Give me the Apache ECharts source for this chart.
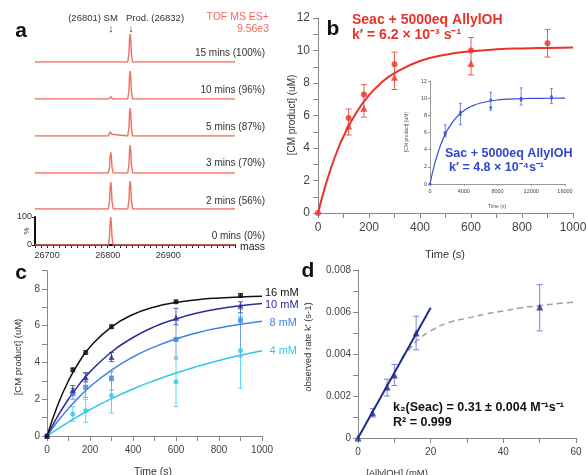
<!DOCTYPE html>
<html><head><meta charset="utf-8">
<script src="https://cdn.jsdelivr.net/npm/echarts@6/dist/echarts.min.js"></script>
<style>html,body{margin:0;padding:0;background:#fff}#c{width:587px;height:475px}</style>
</head><body><div id="c"></div>
<script>
// ---------- Panel a: mass spectra (mass, % intensity) ----------
const specMassRange = [26680, 27010];
const specTickLabels = [26700, 26800, 26900];
const spec15 = [[26680,0],[26833,0],[26835,30],[26836,80],[26837,100],[26838,80],[26839,30],[26841,0],[27010,0]];
const spec10 = [[26680,0],[26802,0],[26804,5],[26805,8],[26806,5],[26808,0],[26833,0],[26835,30],[26836,80],[26837,100],[26838,80],[26839,30],[26841,0],[27010,0]];
const spec5  = [[26680,0],[26801,0],[26803,6],[26804,15],[26805,18],[26806,15],[26807,6],[26809,0],[26833,0],[26835,30],[26836,80],[26837,100],[26838,80],[26839,30],[26841,0],[27010,0]];
const spec3  = [[26680,0],[26801,0],[26803,22],[26804,60],[26805,74],[26806,60],[26807,22],[26809,0],[26833,0],[26835,30],[26836,80],[26837,100],[26838,80],[26839,30],[26841,0],[27010,0]];
const spec2  = [[26680,0],[26801,0],[26803,29],[26804,77],[26805,96],[26806,77],[26807,29],[26809,0],[26833,0],[26835,30],[26836,80],[26837,100],[26838,80],[26839,30],[26841,0],[27010,0]];
const spec0  = [[26680,0],[26801,0],[26803,30],[26804,80],[26805,100],[26806,80],[26807,30],[26809,0],[26820,0],[26822,3],[26824,0],[26829,0],[26831,3],[26833,0],[27010,0]];
const specTraces = [spec15, spec10, spec5, spec3, spec2, spec0];
const specLabels = ['15 mins (100%)','10 mins (96%)','5 mins (87%)','3 mins (70%)','2 mins (56%)','0 mins (0%)'];

// ---------- Panel b: Seac + 5000eq AllylOH ----------
const bTime   = [0, 120, 180, 300, 600, 900];
const bRep1   = [0, 5.85, 7.3, 9.15, 10.0, 10.45];
const bRep2   = [null, 5.35, 6.45, 8.35, 9.2, null];
const bErrHi  = [0, 6.4, 7.9, 9.9, 10.8, 11.3];
const bErrLo  = [0, 4.8, 5.9, 7.6, 8.5, 9.6];
const bFitT   = [0, 25, 50, 75, 100, 150, 200, 250, 300, 400, 500, 600, 700, 800, 900, 1000];
const bFitY   = [0, 1.46, 2.72, 3.80, 4.71, 6.17, 7.25, 8.04, 8.61, 9.35, 9.74, 9.95, 10.07, 10.13, 10.16, 10.18];

// ---------- Panel b inset: Sac + 5000eq AllylOH ----------
const inTime  = [0, 1800, 3600, 7200, 10800, 14400];
const inRep1  = [0, 6.0, 8.4, 9.8, 10.0, 10.2];
const inRep2  = [null, 5.8, 8.1, 8.9, 9.8, 10.0];
const inErrHi = [0, 6.9, 9.4, 10.7, 11.2, 11.1];
const inErrLo = [0, 5.5, 6.9, 8.6, 9.2, 9.4];
const inFitT  = [0, 500, 1000, 1500, 2000, 3000, 4000, 5000, 6000, 8000, 10000, 12000, 14000, 16000];
const inFitY  = [0, 2.13, 3.81, 5.13, 6.17, 7.63, 8.53, 9.09, 9.44, 9.79, 9.92, 9.97, 9.99, 10.0];

// ---------- Panel c: concentration series ----------
const cTime = [0, 120, 180, 300, 600, 900];
const c16 = [0, 3.6, 4.55, 5.95, 7.3, 7.65];
const c16Hi = [0, 3.7, 4.65, 6.05, 7.4, 7.75];
const c16Lo = [0, 3.5, 4.45, 5.85, 7.2, 7.55];
const c10 = [0, 2.5, 3.2, 4.3, 6.45, 7.1];
const c10Hi = [0, 2.75, 3.45, 4.55, 6.95, 7.3];
const c10Lo = [0, 2.25, 2.95, 4.05, 6.05, 6.7];
const c8 = [0, 2.3, 2.65, 3.15, 5.25, 6.3];
const c8Hi = [0, 2.6, 3.4, 3.5, 6.3, 6.9];
const c8Lo = [0, 2.0, 2.1, 2.5, 4.2, 4.3];
const c4 = [0, 1.2, 1.37, 2.2, 2.95, 4.65];
const c4Hi = [0, 1.6, 2.0, 3.0, 4.3, 6.5];
const c4Lo = [0, 0.8, 0.75, 1.25, 1.6, 2.6];
const cFitT = [0, 50, 100, 150, 200, 300, 400, 500, 600, 700, 800, 900, 1000];
const cFit16 = [0, 1.69, 3.01, 4.04, 4.84, 5.94, 6.61, 7.02, 7.27, 7.42, 7.51, 7.57, 7.60];
const cFit10 = [0, 1.08, 2.01, 2.81, 3.49, 4.57, 5.36, 5.95, 6.37, 6.69, 6.92, 7.09, 7.21];
const cFit8  = [0, 0.80, 1.50, 2.13, 2.68, 3.59, 4.30, 4.85, 5.28, 5.62, 5.88, 6.08, 6.24];
const cFit4  = [0, 0.39, 0.76, 1.11, 1.44, 2.03, 2.56, 3.02, 3.43, 3.79, 4.11, 4.39, 4.64];
const cNames = ['16 mM', '10 mM', '8 mM', '4 mM'];

// ---------- Panel d: observed rate vs [AllylOH] ----------
const dConc = [0, 4, 8, 10, 16, 50];
const dRate = [0, 0.0012, 0.00243, 0.0030, 0.0050, 0.00624];
const dErrHi = [0, 0.0014, 0.0028, 0.0035, 0.0058, 0.0073];
const dErrLo = [0, 0.0010, 0.0020, 0.0025, 0.0042, 0.0051];
const dFitX = [0, 20];
const dFitY = [0, 0.0062];
const dSatX = [12, 14, 16, 20, 25, 30, 35, 40, 45, 50, 55, 60];
const dSatY = [0.0038, 0.0042, 0.0046, 0.0051, 0.0055, 0.0057, 0.0059, 0.00605, 0.0062, 0.0063, 0.0064, 0.00648];

// ---------- build ----------
const FONT = "'Liberation Sans', Arial, sans-serif";
const zip = (xs, ys) => xs.map((x, i) => [x, ys[i]]).filter(d => d[1] != null);
const chart = echarts.init(document.getElementById('c'), null, {renderer: 'canvas'});

const grids = [], xAxes = [], yAxes = [], series = [];
const specBase = [62, 99, 136, 173, 209, 245];
specBase.forEach((b, i) => {
  grids.push({left: 35, top: b - 28, width: 200, height: 28, outerBoundsMode: 'none'});
  const last = i === specBase.length - 1;
  xAxes.push({type: 'value', gridIndex: i, min: specMassRange[0], max: specMassRange[1], interval: 10, show: last,
    axisLine: {show: true, lineStyle: {color: '#111', width: 2}},
    axisTick: {show: true, length: 3, lineStyle: {color: '#222'}},
    axisLabel: {show: true, fontSize: 9, color: '#333', margin: 6, fontFamily: FONT,
      formatter: v => (specTickLabels.indexOf(Math.round(v)) >= 0 ? String(Math.round(v)) : '')},
    splitLine: {show: false}});
  yAxes.push({type: 'value', gridIndex: i, min: 0, max: 100, interval: 100, show: last,
    axisLine: {show: true, lineStyle: {color: '#111', width: 2}},
    axisTick: {show: true, length: 3, lineStyle: {color: '#222'}},
    axisLabel: {show: true, fontSize: 9, color: '#333', margin: 3, fontFamily: FONT},
    splitLine: {show: false}});
  series.push({type: 'line', xAxisIndex: i, yAxisIndex: i, data: specTraces[i], showSymbol: false, symbol: 'none',
    lineStyle: {color: '#ef6f63', width: 1.4}, z: 3, animation: false});
});

function axisPair(gi, xo, yo) {
  grids.push(Object.assign({outerBoundsMode: 'none'}, xo.grid));
  const base = (o) => ({
    axisLine: {show: true, lineStyle: {color: o.lineColor || '#888', width: 1}},
    axisTick: {show: true, length: o.tick || 5, lineStyle: {color: o.lineColor || '#888'}},
    splitLine: {show: false}
  });
  xAxes.push(Object.assign(base(xo), {type: 'value', gridIndex: gi, min: xo.min, max: xo.max, interval: xo.interval,
    axisLabel: {fontSize: xo.font, color: '#444', margin: xo.margin || 8, fontFamily: FONT,
      formatter: v => (Math.round(v / xo.interval) % (xo.every || 1) === 0 ? xo.fmt ? xo.fmt(v) : String(Math.round(v)) : '')}}));
  yAxes.push(Object.assign(base(yo), {type: 'value', gridIndex: gi, min: yo.min, max: yo.max, interval: yo.interval,
    axisLabel: {fontSize: yo.font, color: '#444', margin: yo.margin || 6, fontFamily: FONT,
      formatter: v => (Math.round(v / yo.interval) % (yo.every || 1) === 0 ? yo.fmt ? yo.fmt(v) : String(Math.round(v)) : '')}}));
}
// grid 6: panel b
axisPair(6, {grid: {left: 318, top: 18, width: 255, height: 195}, min: 0, max: 1000, interval: 100, every: 2, font: 12, margin: 9},
            {min: 0, max: 12, interval: 1, every: 2, font: 12, margin: 8});
// grid 7: inset
axisPair(7, {grid: {left: 430, top: 81, width: 135, height: 103}, min: 0, max: 16000, interval: 4000, font: 5.5, tick: 2, margin: 4, lineColor: '#999'},
            {min: 0, max: 12, interval: 2, font: 5.5, tick: 2, margin: 3, lineColor: '#999'});
// grid 8: panel c
axisPair(8, {grid: {left: 47, top: 270.6, width: 215, height: 165.4}, min: 0, max: 1000, interval: 100, every: 2, font: 10, margin: 9},
            {min: 0, max: 9, interval: 1, every: 2, font: 10, margin: 7});
// grid 9: panel d
axisPair(9, {grid: {left: 358, top: 270, width: 218, height: 168}, min: 0, max: 60, interval: 10, every: 2, font: 10, margin: 9},
            {min: 0, max: 0.008, interval: 0.001, every: 2, font: 10, margin: 7, fmt: v => (Math.abs(v) < 1e-9 ? '0' : v.toFixed(3))});

function errBars(gi, xs, lo, hi, color, cap) {
  const data = xs.map((x, i) => [x, lo[i], hi[i]]).filter(d => d[2] > d[1]);
  return {type: 'custom', xAxisIndex: gi, yAxisIndex: gi, silent: true, z: 2, data: data, encode: {x: 0, y: [1, 2]},
    renderItem: (p, api) => {
      const a = api.coord([api.value(0), api.value(1)]);
      const b = api.coord([api.value(0), api.value(2)]);
      const st = {stroke: color, lineWidth: 1};
      return {type: 'group', children: [
        {type: 'line', shape: {x1: a[0], y1: a[1], x2: b[0], y2: b[1]}, style: st},
        {type: 'line', shape: {x1: a[0] - cap, y1: a[1], x2: a[0] + cap, y2: a[1]}, style: st},
        {type: 'line', shape: {x1: b[0] - cap, y1: b[1], x2: b[0] + cap, y2: b[1]}, style: st}]};
    }};
}
function scat(gi, xs, ys, symbol, size, color) {
  return {type: 'scatter', xAxisIndex: gi, yAxisIndex: gi, data: zip(xs, ys), symbol: symbol, symbolSize: size,
    itemStyle: {color: color}, z: 4, silent: true};
}
function fit(gi, xs, ys, color, width, dashed) {
  return {type: 'line', xAxisIndex: gi, yAxisIndex: gi, data: zip(xs, ys), smooth: true, showSymbol: false, symbol: 'none',
    lineStyle: {color: color, width: width, type: dashed ? [6, 4] : 'solid'}, z: 3, silent: true};
}

// panel b
const RED = '#e8322a';
series.push(fit(6, bFitT, bFitY, RED, 2));
series.push(errBars(6, bTime, bErrLo, bErrHi, '#ea5a50', 3));
series.push(scat(6, bTime, bRep1, 'circle', 6, RED));
series.push(scat(6, bTime, bRep2, 'triangle', 7, RED));
// inset
const BLUE = '#3450d8';
series.push(fit(7, inFitT, inFitY, BLUE, 1.2));
series.push(errBars(7, inTime, inErrLo, inErrHi, '#6f84e6', 1.5));
series.push(scat(7, inTime, inRep1, 'circle', 3, BLUE));
series.push(scat(7, inTime, inRep2, 'circle', 3, BLUE));
// panel c
const cCols = ['#111111', '#2a2c99', '#3f83e6', '#2cc8ef'];
const cErrCols = ['#444444', '#5557b8', '#6fa3ee', '#5fd6f3'];
series.push(fit(8, cFitT, cFit4, cCols[3], 1.5));
series.push(fit(8, cFitT, cFit8, cCols[2], 1.5));
series.push(fit(8, cFitT, cFit10, cCols[1], 1.5));
series.push(fit(8, cFitT, cFit16, cCols[0], 1.5));
series.push(errBars(8, cTime, c4Lo, c4Hi, cErrCols[3], 2.5));
series.push(errBars(8, cTime, c8Lo, c8Hi, cErrCols[2], 2.5));
series.push(errBars(8, cTime, c10Lo, c10Hi, cErrCols[1], 2.5));
series.push(errBars(8, cTime, c16Lo, c16Hi, cErrCols[0], 2.5));
series.push(scat(8, cTime, c4, 'circle', 5, cCols[3]));
series.push(scat(8, cTime, c8, 'rect', 5, cCols[2]));
series.push(scat(8, cTime, c10, 'triangle', 6, cCols[1]));
series.push(scat(8, cTime, c16, 'circle', 5, cCols[0]));
// panel d
const NAVY = '#1f2d8f';
series.push(fit(9, dSatX, dSatY, '#a0a0a0', 1.5, true));
series.push(Object.assign(fit(9, dFitX, dFitY, NAVY, 2), {smooth: false}));
series.push(errBars(9, dConc, dErrLo, dErrHi, '#7b86d6', 3));
series.push(scat(9, dConc, dRate, 'triangle', 7, NAVY));

// ---------- text ----------
function txt(x, y, text, size, opts) {
  opts = opts || {};
  return {type: 'text', x: x, y: y, rotation: opts.rot || 0, z: 10, silent: true,
    style: {text: text, fill: opts.color || '#333', font: (opts.bold ? 'bold ' : '') + size + 'px ' + FONT,
      align: opts.align || 'left', verticalAlign: 'middle', textAlign: opts.align || 'left', textVerticalAlign: 'middle'}};
}
const g = [];
g.push(txt(21, 31, 'a', 21, {bold: true, color: '#111', align: 'center'}));
g.push(txt(333, 29, 'b', 21, {bold: true, color: '#111', align: 'center'}));
g.push(txt(21, 273, 'c', 21, {bold: true, color: '#111', align: 'center'}));
g.push(txt(308, 271, 'd', 21, {bold: true, color: '#111', align: 'center'}));
// panel a
g.push(txt(93, 18, '(26801) SM', 9.5, {align: 'center'}));
g.push(txt(155, 18, 'Prod. (26832)', 9.5, {align: 'center'}));
g.push(txt(111, 29, '\u2193', 11, {align: 'center'}));
g.push(txt(131, 29, '\u2193', 11, {align: 'center'}));
g.push(txt(269, 17, 'TOF MS ES+', 10.5, {align: 'right', color: '#ef6a5c'}));
g.push(txt(269, 29, '9.56e3', 10.5, {align: 'right', color: '#ef6a5c'}));
const specLabelY = [53, 90, 127, 163, 201, 236];
specLabels.forEach((s, i) => g.push(txt(265, specLabelY[i], s, 10, {align: 'right'})));
g.push(txt(240, 247, 'mass', 10.5, {color: '#222'}));
g.push(txt(27, 231, '%', 8, {align: 'center', rot: Math.PI / 2}));
// panel b
g.push(txt(352, 20, 'Seac + 5000eq AllylOH', 14, {bold: true, color: RED}));
g.push(txt(352, 35, 'k\u2032 = 6.2 \u00d7 10\u207b\u00b3 s\u207b\u00b9', 14, {bold: true, color: RED}));
g.push(txt(292, 115, '[CM product] (uM)', 10, {align: 'center', rot: Math.PI / 2}));
g.push(txt(445, 255, 'Time (s)', 11, {align: 'center'}));
g.push(txt(445, 154, 'Sac + 5000eq AllylOH', 12.5, {bold: true, color: '#2f48d0'}));
g.push(txt(449, 168, 'k\u2032 = 4.8 \u00d7 10\u207b\u2074s\u207b\u00b9', 12.5, {bold: true, color: '#2f48d0'}));
g.push(txt(407, 132, '[CM product] (uM)', 5, {align: 'center', rot: Math.PI / 2, color: '#555'}));
g.push(txt(497, 207, 'Time (s)', 5, {align: 'center', color: '#555'}));
// panel c
g.push(txt(18, 357, '[CM product] (uM)', 9.5, {align: 'center', rot: Math.PI / 2}));
g.push(txt(153, 472, 'Time (s)', 10.5, {align: 'center'}));
g.push(txt(265, 293, cNames[0], 11, {color: cCols[0]}));
g.push(txt(265, 305, cNames[1], 11, {color: cCols[1]}));
g.push(txt(297, 323, cNames[2], 11, {color: cCols[2], align: 'right'}));
g.push(txt(297, 351, cNames[3], 11, {color: cCols[3], align: 'right'}));
// panel d
g.push(txt(308, 347, "observed rate k' (s-1)", 9.5, {align: 'center', rot: Math.PI / 2}));
g.push(txt(397, 473, '[AllylOH] (mM)', 9.5, {align: 'center'}));
g.push(txt(393, 408, 'k\u2082(Seac) = 0.31 \u00b1 0.004 M\u207b\u00b9s\u207b\u00b9', 12.5, {bold: true, color: '#111'}));
g.push(txt(393, 423, 'R\u00b2 = 0.999', 12.5, {bold: true, color: '#111'}));

chart.setOption({
  animation: false,
  backgroundColor: '#fff',
  textStyle: {fontFamily: FONT},
  grid: grids, xAxis: xAxes, yAxis: yAxes, series: series, graphic: g
});
</script></body></html>
